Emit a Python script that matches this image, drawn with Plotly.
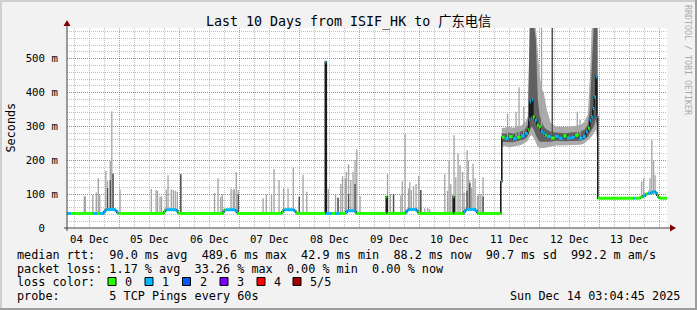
import numpy as np
import pandas as pd
import plotly.graph_objects as go

# ---------------- data ----------------
T0 = pd.Timestamp("2025-12-04 00:00:00")
X_START = pd.Timestamp("2025-12-04 03:04:45")
X_END = pd.Timestamp("2025-12-14 03:04:45")
END_HOUR = (X_END - T0).total_seconds() / 3600.0

# median rtt as a step series: hours after 04 Dec 00:00, value in ms, lost pings
med_hours = [3.08, 4.6, 13.8, 15.0, 16.2, 17.8, 18.4, 19.0, 22.4, 23.0, 23.6,
             41.8, 42.4, 43.0, 46.8, 47.4, 47.8,
             65.4, 66.0, 66.6, 70.4, 71.0, 71.4,
             89.0, 89.6, 90.2, 94.0, 94.6, 95.0,
             106.4, 106.8, 109.0, 110.6, 112.2, 114.6, 115.2, 118.2, 118.8,
             130.8, 131.2, 138.6, 139.2, 139.8, 142.8, 143.4, 143.8,
             157.6, 158.0, 161.8, 162.4, 163.0, 166.4, 167.0, 167.4,
             176.6, 177.0, 178.2, 179.8, 181.4, 183.0, 184.6, 186.2, 187.4, 187.8,
             188.2, 188.6, 189.0, 189.4, 190.2, 191.0, 191.8, 192.6, 193.4, 194.2,
             195.0, 196.6, 198.2, 199.8, 201.4, 203.0, 204.6, 206.2, 207.8, 209.4,
             210.6, 211.4, 212.2, 212.8, 213.4, 214.0, 214.6, 215.0, 215.4,
             229.8, 230.2, 232.4, 233.4, 234.4, 235.4, 236.4, 237.4, 238.4, 239.0,
             239.6, 240.2]
med_ms = [43, 43, 43, 43, 43, 48, 53, 54.5, 51, 46, 43,
          48, 53, 54, 51, 46, 43,
          48, 53, 54, 50, 46, 43,
          48, 53, 54, 50, 46, 43,
          490, 43, 43, 43, 43, 47, 51, 48, 43,
          92, 43, 48, 53, 55, 51, 46, 43,
          92, 43, 48, 53, 55, 51, 46, 43,
          137, 268, 265, 270, 264, 268, 272, 279, 290, 320,
          372, 325, 378, 328, 318, 304, 299, 285, 280, 274,
          270, 266, 270, 265, 272, 266, 268, 274, 265, 270,
          284, 295, 318, 328, 353, 387, 446, 330, 88,
          88, 88, 91, 95, 100, 102, 104, 107, 104, 97,
          90, 88]
med_loss = [1, 0, 1, 0, 1, 1, 1, 1, 1, 1, 0,
            0, 1, 1, 1, 0, 0,
            1, 0, 1, 1, 0, 0,
            0, 1, 1, 1, 0, 0,
            1, 1, 0, 1, 0, 1, 1, 1, 0,
            0, 0, 1, 1, 1, 1, 0, 0,
            0, 0, 1, 1, 1, 1, 0, 0,
            1, 0, 1, 0, 1, 0, 1, 1, 0, 1,
            1, 1, 1, 0, 1, 0, 0, 1, 1, 0,
            1, 0, 1, 1, 0, 1, 1, 0, 1, 1,
            1, 0, 1, 1, 1, 1, 1, 1, 0,
            1, 0, 0, 1, 0, 1, 1, 1, 1, 0,
            0, 0]

# isolated smoke spikes: hour, highest ping (ms), top of the dense part (0 = none)
spike_hours = [10.0, 10.4, 13.4, 14.8, 15.6, 16.2, 18.6, 19.3, 20.4, 21.0, 21.5, 24.3,
               36.8, 38.7, 39.3, 40.3, 40.9, 42.8, 43.5, 44.8, 45.6, 46.4, 47.2, 48.6,
               62.1, 63.5, 64.6, 65.2, 68.7, 69.6, 70.0, 70.8, 71.6,
               81.5, 82.8, 84.9, 85.9, 87.9, 89.7, 91.5, 93.6, 96.0, 97.5, 99.0,
               107.6, 110.5, 111.5, 112.6, 113.3, 114.4, 114.8, 115.7, 116.6, 117.5,
               118.3, 119.0, 120.3,
               131.3, 132.4, 133.7, 136.6, 137.2, 138.3, 139.7, 140.2, 140.8, 141.7,
               142.7, 143.8, 144.6, 146.2, 147.4, 148.2,
               154.2, 155.3, 155.9, 156.6, 157.4, 157.9, 158.6, 159.5, 160.3, 161.3,
               161.9, 163.1, 163.6, 164.2, 164.9, 165.5, 166.3, 167.3, 167.8, 168.6,
               169.5,
               179.3, 182.7, 183.9, 185.8, 192.9, 197.2, 207.2, 208.3,
               232.9, 233.7, 235.9, 236.3, 237.0, 237.7, 238.3]
spike_max_ms = [94, 94, 98, 105, 147, 97, 168, 139, 198, 345, 160, 114,
                115, 112, 110, 93, 94, 114, 156, 114, 112, 110, 107, 159,
                103, 147, 92, 99, 117, 112, 116, 165, 112,
                88, 99, 97, 174, 142, 116, 117, 178, 92, 157, 107,
                115, 97, 89, 130, 153, 147, 166, 188, 142, 166,
                200, 232, 94,
                159, 100, 100, 97, 138, 278, 117, 135, 112, 124,
                130, 154, 112, 58, 60, 56,
                159, 110, 200, 129, 100, 274, 150, 220, 186, 166,
                105, 230, 199, 140, 118, 190, 147, 95, 100, 100,
                150,
                338, 343, 416, 358, 600, 600, 343, 320,
                137, 147, 112, 147, 260, 200, 156]
spike_dense_ms = [0, 0, 0, 0, 0, 0, 0, 118, 141, 0, 160, 0,
                  0, 0, 0, 0, 0, 0, 0, 0, 0, 0, 0, 159,
                  0, 0, 0, 0, 0, 0, 0, 0, 99,
                  0, 0, 0, 0, 0, 0, 0, 0, 92, 0, 0,
                  0, 0, 89, 0, 0, 0, 0, 100, 0, 0,
                  130, 0, 0,
                  0, 0, 100, 0, 0, 0, 0, 0, 0, 0,
                  0, 0, 112, 0, 0, 0,
                  0, 0, 0, 0, 0, 0, 0, 0, 0, 0,
                  0, 110, 0, 132, 0, 0, 0, 0, 0, 0,
                  92,
                  0, 0, 0, 0, 0, 600, 0, 0,
                  0, 0, 0, 0, 0, 0, 110]

# smoke band on 11-12 Dec: outer (all pings) and inner (middle pings) ranges, ms
band_hours = [177.0, 178.2, 179.8, 181.4, 183.0, 184.6, 186.2, 187.4, 188.2, 189.0,
              189.8, 190.6, 191.4, 192.2, 193.0, 193.8, 195.0, 196.6, 198.6, 200.6,
              202.6, 204.6, 206.6, 208.6, 210.2, 211.4, 212.2, 213.0, 213.8, 214.6,
              215.3]
band_lo_out = [240, 242, 238, 240, 242, 245, 250, 258, 270, 275,
               265, 250, 240, 236, 235, 236, 238, 240, 244, 244,
               244, 245, 245, 246, 250, 258, 265, 270, 280, 290,
               250]
band_lo_in = [255, 255, 254, 253, 256, 258, 262, 272, 290, 300,
              290, 275, 262, 255, 255, 254, 255, 255, 258, 256,
              256, 257, 257, 258, 262, 270, 280, 290, 300, 320,
              290]
band_hi_in = [280, 278, 282, 278, 282, 285, 292, 305, 600, 600,
              600, 560, 380, 330, 315, 300, 290, 285, 282, 280,
              280, 282, 282, 284, 292, 305, 350, 480, 600, 600,
              600]
band_hi_out = [295, 296, 300, 296, 298, 302, 310, 330, 600, 600,
               600, 600, 520, 450, 410, 400, 350, 310, 300, 298,
               298, 300, 302, 305, 315, 335, 440, 600, 600, 600,
               600]

loss_colors = ["#26ff00", "#00b8ff", "#0059ff", "#7e00ff", "#ff0000", "#a10000"]
loss_labels = ["0", "1", "2", "3", "4", "5/5"]

y_tick_vals = [0, 100, 200, 300, 400, 500]
y_tick_text = ["0\u00a0\u00a0", "100 m", "200 m", "300 m", "400 m", "500 m"]

title_text = "Last 10 Days from ISIF_HK to 广东电信"
legend_rtt = "median rtt:  90.0 ms avg  489.6 ms max  42.9 ms min  88.2 ms now  90.7 ms sd  992.2 m am/s"
legend_loss = "packet loss: 1.17 % avg  33.26 % max  0.00 % min  0.00 % now"
legend_color = "loss color:"
legend_probe = "probe:       5 TCP Pings every 60s"
stamp_text = "Sun Dec 14 03:04:45 2025"

# ---------------- helpers ----------------
W, H = 697, 310
PL, PR, PT, PB = 67, 667, 28, 228  # plot area in pixels
MONO = "DejaVu Sans Mono, Noto Sans CJK SC, monospace"


def px(x):
    return (x - PL) / (PR - PL)


def py(y):
    return (PB - y) / (PB - PT)


def to_time(hours):
    return list(T0 + pd.to_timedelta(np.asarray(hours, dtype=float), unit="h"))


def nb(s):
    return s.replace(" ", "\u00a0")


med_h = np.asarray(med_hours, dtype=float)
med_v = np.asarray(med_ms, dtype=float)
seg_end = np.append(med_h[1:], END_HOUR)


def median_at(h):
    i = np.searchsorted(med_h, h, side="right") - 1
    return med_v[max(i, 0)]


fig = go.Figure()

# smoke band (outer light, inner dark)
bt = to_time(band_hours)
fig.add_trace(go.Scatter(x=bt, y=band_lo_out, mode="lines", line=dict(width=0, color="rgba(0,0,0,0)"),
                         hoverinfo="skip", showlegend=False))
fig.add_trace(go.Scatter(x=bt, y=band_hi_out, mode="lines", line=dict(width=0, color="rgba(0,0,0,0)"),
                         fill="tonexty", fillcolor="#ababab", hoverinfo="skip", showlegend=False))
fig.add_trace(go.Scatter(x=bt, y=band_lo_in, mode="lines", line=dict(width=0, color="rgba(0,0,0,0)"),
                         hoverinfo="skip", showlegend=False))
fig.add_trace(go.Scatter(x=bt, y=band_hi_in, mode="lines", line=dict(width=0, color="rgba(0,0,0,0)"),
                         fill="tonexty", fillcolor="#606060", hoverinfo="skip", showlegend=False))

# spikes
lx, ly, dx, dy = [], [], [], []
for h, mx, dn in zip(spike_hours, spike_max_ms, spike_dense_ms):
    t = to_time([h])[0]
    base = median_at(h)
    lx += [t, t, None]
    ly += [base, mx, None]
    if dn > 0:
        dx += [t, t, None]
        dy += [base, dn, None]
fig.add_trace(go.Scatter(x=lx, y=ly, mode="lines", line=dict(width=1.3, color="#a3a3a3"),
                         hoverinfo="skip", showlegend=False))
fig.add_trace(go.Scatter(x=dx, y=dy, mode="lines", line=dict(width=1.3, color="#4a4a4a"),
                         hoverinfo="skip", showlegend=False))

# dark underlay of the median (shows at the jumps)
fig.add_trace(go.Scatter(x=to_time(list(med_h) + [END_HOUR]), y=list(med_v) + [med_v[-1]],
                         mode="lines", line=dict(width=1.6, color="#1c1c1c", shape="hv"),
                         hoverinfo="skip", showlegend=False))

# coloured median segments by loss
for lvl, col in enumerate(loss_colors):
    xs, ys = [], []
    for s, e, v, l in zip(med_h, seg_end, med_v, med_loss):
        if l == lvl:
            ts = to_time([s, e])
            xs += [ts[0], ts[1], None]
            ys += [v, v, None]
    if xs:
        fig.add_trace(go.Scatter(x=xs, y=ys, mode="lines", line=dict(width=3, color=col),
                                 hoverinfo="skip", showlegend=False))

GRID = "rgba(140,140,140,0.55)"
MGRID = "rgba(222,48,48,0.55)"

fig.update_xaxes(
    type="date", range=[X_START, X_END], tick0="2025-12-04", dtick=86400000,
    ticklabelmode="period", tickformat="%d %b", showgrid=True, gridcolor=MGRID,
    griddash="1px,1px", gridwidth=1, ticks="outside", ticklen=1, tickcolor="rgba(0,0,0,0)",
    tickfont=dict(family=MONO, size=10.7, color="#000000"), zeroline=False, showline=False,
    minor=dict(dtick=21600000, tick0="2025-12-04", showgrid=True, gridcolor=GRID,
               griddash="1px,1px", gridwidth=1, ticks=""),
)
fig.update_yaxes(
    range=[0, 590.7], tickmode="array", tickvals=y_tick_vals, ticktext=y_tick_text,
    showgrid=True, gridcolor=MGRID, griddash="1px,1px", gridwidth=1,
    ticks="outside", ticklen=6, tickcolor="rgba(0,0,0,0)",
    tickfont=dict(family=MONO, size=10.7, color="#000000"), zeroline=False, showline=False,
    minor=dict(dtick=20, showgrid=True, gridcolor=GRID, griddash="1px,1px", gridwidth=1, ticks=""),
)

shapes = []
# frame shading
shapes.append(dict(type="rect", xref="paper", yref="paper", x0=px(0), x1=px(W), y0=py(0), y1=py(2),
                   fillcolor="#cfcfcf", line=dict(width=0), layer="above"))
shapes.append(dict(type="rect", xref="paper", yref="paper", x0=px(0), x1=px(2), y0=py(0), y1=py(H),
                   fillcolor="#cfcfcf", line=dict(width=0), layer="above"))
shapes.append(dict(type="rect", xref="paper", yref="paper", x0=px(0), x1=px(W), y0=py(H - 2), y1=py(H),
                   fillcolor="#9e9e9e", line=dict(width=0), layer="above"))
shapes.append(dict(type="rect", xref="paper", yref="paper", x0=px(W - 2), x1=px(W), y0=py(0), y1=py(H),
                   fillcolor="#9e9e9e", line=dict(width=0), layer="above"))
# axes with arrows
shapes.append(dict(type="line", xref="paper", yref="paper", x0=px(PL), x1=px(PL), y0=py(231), y1=py(25),
                   line=dict(color="#404040", width=1), layer="above"))
shapes.append(dict(type="line", xref="paper", yref="paper", x0=px(64), x1=px(671), y0=py(PB), y1=py(PB),
                   line=dict(color="#404040", width=1), layer="above"))
shapes.append(dict(type="path", xref="paper", yref="paper",
                   path=f"M {px(PL)},{py(20)} L {px(PL-3.5)},{py(26)} L {px(PL+3.5)},{py(26)} Z",
                   fillcolor="#800000", line=dict(width=0), layer="above"))
shapes.append(dict(type="path", xref="paper", yref="paper",
                   path=f"M {px(676)},{py(PB)} L {px(670)},{py(PB-3.5)} L {px(670)},{py(PB+3.5)} Z",
                   fillcolor="#800000", line=dict(width=0), layer="above"))

annotations = []


def text(x, y, s, size=11.8, anchor="left", color="#000000", angle=0):
    annotations.append(dict(x=px(x), y=py(y), xref="paper", yref="paper", text=s, showarrow=False,
                            xanchor=anchor, yanchor="middle", borderpad=0, textangle=angle,
                            font=dict(family=MONO, size=size, color=color)))


text(348.5, 22, nb(title_text), size=13.3, anchor="center")
text(10.5, 128, "Seconds", size=11.8, anchor="center", angle=-90)
text(688, 60, nb("RRDTOOL / TOBI OETIKER"), size=8.3, anchor="center", color="#ababab", angle=90)
text(16, 254.5, nb(legend_rtt))
text(16, 268.5, nb(legend_loss))
text(16, 282, nb(legend_color))
text(16, 296, nb(legend_probe))
text(681, 296, nb(stamp_text), anchor="right")

sq_left = [108, 145, 182.5, 220, 257, 293]
for i, (col, lab) in enumerate(zip(loss_colors, loss_labels)):
    x0 = sq_left[i]
    shapes.append(dict(type="rect", xref="paper", yref="paper", x0=px(x0), x1=px(x0 + 8),
                       y0=py(277.5), y1=py(285.5), fillcolor=col, line=dict(color="#000000", width=1),
                       layer="above"))
    text(x0 + 16, 282, lab)

fig.update_layout(
    width=W, height=H, margin=dict(l=PL, r=W - PR, t=PT, b=H - PB, pad=0),
    paper_bgcolor="#f2f2f2", plot_bgcolor="#ffffff", showlegend=False,
    shapes=shapes, annotations=annotations, font=dict(family=MONO),
)

fig.write_html("out.html")
